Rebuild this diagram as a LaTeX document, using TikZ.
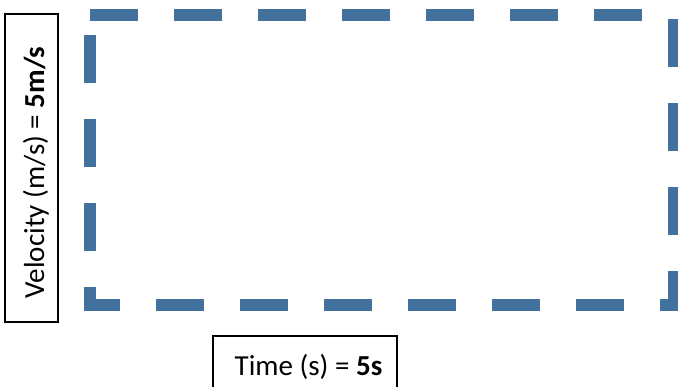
\documentclass[tikz,border=0pt]{standalone}
\usepackage{fontspec}
\setmainfont{Carlito}
\definecolor{dashblue}{HTML}{41719C}
\begin{document}
\begin{tikzpicture}[x=1pt,y=-1pt,
  labelbox/.style={draw=black, line width=1.5pt, fill=white, inner sep=0pt},
  labeltext/.style={font=\fontsize{29}{35}\selectfont, inner sep=0pt},
  frame/.style={draw=dashblue, line width=12pt, dash pattern=on 48pt off 36pt, line join=miter, line cap=butt}]
\useasboundingbox (0,0) rectangle (678,386);
% dashed frame (starts at top-left, clockwise)
\coordinate (tl) at (90,14.5);
\coordinate (tr) at (674,14.5);
\coordinate (br) at (674,304.5);
\coordinate (bl) at (90,304.5);
\draw[frame] (tl) -- (tr) -- (br) -- (bl) -- cycle;
% velocity label
\node[labelbox, minimum width=53pt, minimum height=308pt] (vbox) at (31.5,168) {};
\node[labeltext, rotate=90, anchor=base] (vtext) at (44,172.5) {Velocity (m/s) = \textbf{5m/s}};
% time label
\node[labelbox, minimum width=184pt, minimum height=70pt] (tbox) at (305,371) {};
\node[labeltext, anchor=base] (ttext) at (308.5,375) {Time (s) = \textbf{5s}};
\end{tikzpicture}
\end{document}
